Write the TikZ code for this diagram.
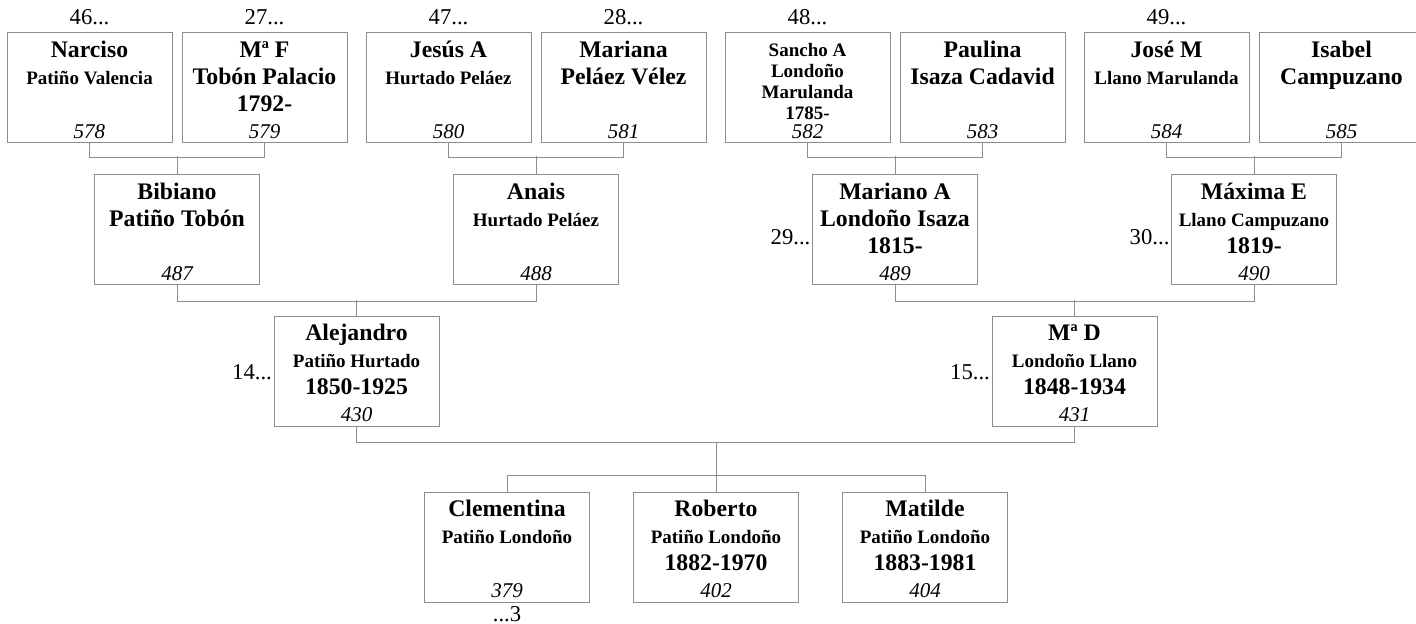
\documentclass[tikz,border=0pt]{standalone}
\usepackage{fontspec}
\setmainfont{Liberation Serif}
\definecolor{borde}{RGB}{140,140,140}
\newcommand{\nbig}{\fontsize{17.8}{20.25}\selectfont\bfseries}
\newcommand{\nsmall}{\fontsize{14.25}{20.25}\selectfont\bfseries}
\newcommand{\ficha}[3][18.5pt]{\parbox[c][82.5pt][s]{123.75pt}{\centering\nbig\rule{0pt}{#1}#2\par\vss{\fontsize{15.75}{18}\selectfont\mdseries\itshape #3\par}\vspace*{3pt}}}
\tikzset{
  caja/.style={draw=borde, line width=0.75pt, inner sep=0pt, fill=white},
  linea/.style={draw=borde, line width=0.75pt},
  etiq/.style={inner sep=1pt, font=\fontsize{17}{18}\selectfont}
}
\begin{document}
\begin{tikzpicture}[x=0.75pt,y=-0.75pt]
\useasboundingbox (0,0) rectangle (1416,624);

% bisabuelos
\node[caja] (n578) at (89.5,88) {\ficha{Narciso\\\nsmall Patiño Valencia}{578}};
\node[caja] (n579) at (264.5,88) {\ficha{Mª F\\Tobón Palacio\\1792-}{579}};
\node[caja] (n580) at (448.5,88) {\ficha{Jesús A\\\nsmall Hurtado Peláez}{580}};
\node[caja] (n581) at (623.5,88) {\ficha{Mariana\\Peláez Vélez}{581}};
\node[caja] (n582) at (807.5,88) {\ficha[17.4pt]{\fontsize{14.25}{15.75}\selectfont Sancho A\\Londoño\\Marulanda\\1785-}{582}};
\node[caja] (n583) at (982.5,88) {\ficha{Paulina\\Isaza Cadavid}{583}};
\node[caja] (n584) at (1166.5,88) {\ficha{José M\\\nsmall Llano Marulanda}{584}};
\node[caja] (n585) at (1341.5,88) {\ficha{Isabel\\Campuzano}{585}};

\node[etiq] (l46) at (89.5,17) {46...};
\node[etiq] (l27) at (264.5,17) {27...};
\node[etiq] (l47) at (448.5,17) {47...};
\node[etiq] (l28) at (623.5,17) {28...};
\node[etiq] (l48) at (807.5,17) {48...};
\node[etiq] (l49) at (1166.5,17) {49...};

% abuelos
\node[caja] (n487) at (177,229.5) {\ficha{Bibiano\\Patiño Tobón}{487}};
\node[caja] (n488) at (536,229.5) {\ficha{Anais\\\nsmall Hurtado Peláez}{488}};
\node[caja] (n489) at (895,229.5) {\ficha{Mariano A\\Londoño Isaza\\1815-}{489}};
\node[caja] (n490) at (1254,229.5) {\ficha{Máxima E\\\nsmall Llano Campuzano\\\nbig 1819-}{490}};

\node[etiq, anchor=east] (l29) at ([yshift=-6pt]n489.west) {29...};
\node[etiq, anchor=east] (l30) at ([yshift=-6pt]n490.west) {30...};

% padres
\node[caja] (n430) at (356.5,371) {\ficha{Alejandro\\\nsmall Patiño Hurtado\\\nbig 1850-1925}{430}};
\node[caja] (n431) at (1074.5,371) {\ficha{Mª D\\\nsmall Londoño Llano\\\nbig 1848-1934}{431}};

\node[etiq, anchor=east] (l14) at ([yshift=-1pt]n430.west) {14...};
\node[etiq, anchor=east] (l15) at ([yshift=-1pt]n431.west) {15...};

% hijos
\node[caja] (n379) at (507,547) {\ficha{Clementina\\\nsmall Patiño Londoño}{379}};
\node[caja] (n402) at (716,547) {\ficha{Roberto\\\nsmall Patiño Londoño\\\nbig 1882-1970}{402}};
\node[caja] (n404) at (925,547) {\ficha{Matilde\\\nsmall Patiño Londoño\\\nbig 1883-1981}{404}};

\node[etiq, anchor=north] (l3) at ([yshift=-2pt]n379.south) {...3};

% uniones
\draw[linea] (n578.south) -- ++(0,14) -| (n579.south);
\draw[linea] (n580.south) -- ++(0,14) -| (n581.south);
\draw[linea] (n582.south) -- ++(0,14) -| (n583.south);
\draw[linea] (n584.south) -- ++(0,14) -| (n585.south);
\draw[linea] (n487.north) -- ++(0,-18);
\draw[linea] (n488.north) -- ++(0,-18);
\draw[linea] (n489.north) -- ++(0,-18);
\draw[linea] (n490.north) -- ++(0,-18);

\draw[linea] (n487.south) -- ++(0,16) -| (n488.south);
\draw[linea] (n489.south) -- ++(0,16) -| (n490.south);
\draw[linea] (n430.north) -- ++(0,-16);
\draw[linea] (n431.north) -- ++(0,-16);

\draw[linea] (n430.south) -- ++(0,16) -| (n431.south);
\draw[linea] (n402.north) -- ++(0,-50);
\draw[linea] (n379.north) -- ++(0,-16) -| (n404.north);
\end{tikzpicture}
\end{document}
